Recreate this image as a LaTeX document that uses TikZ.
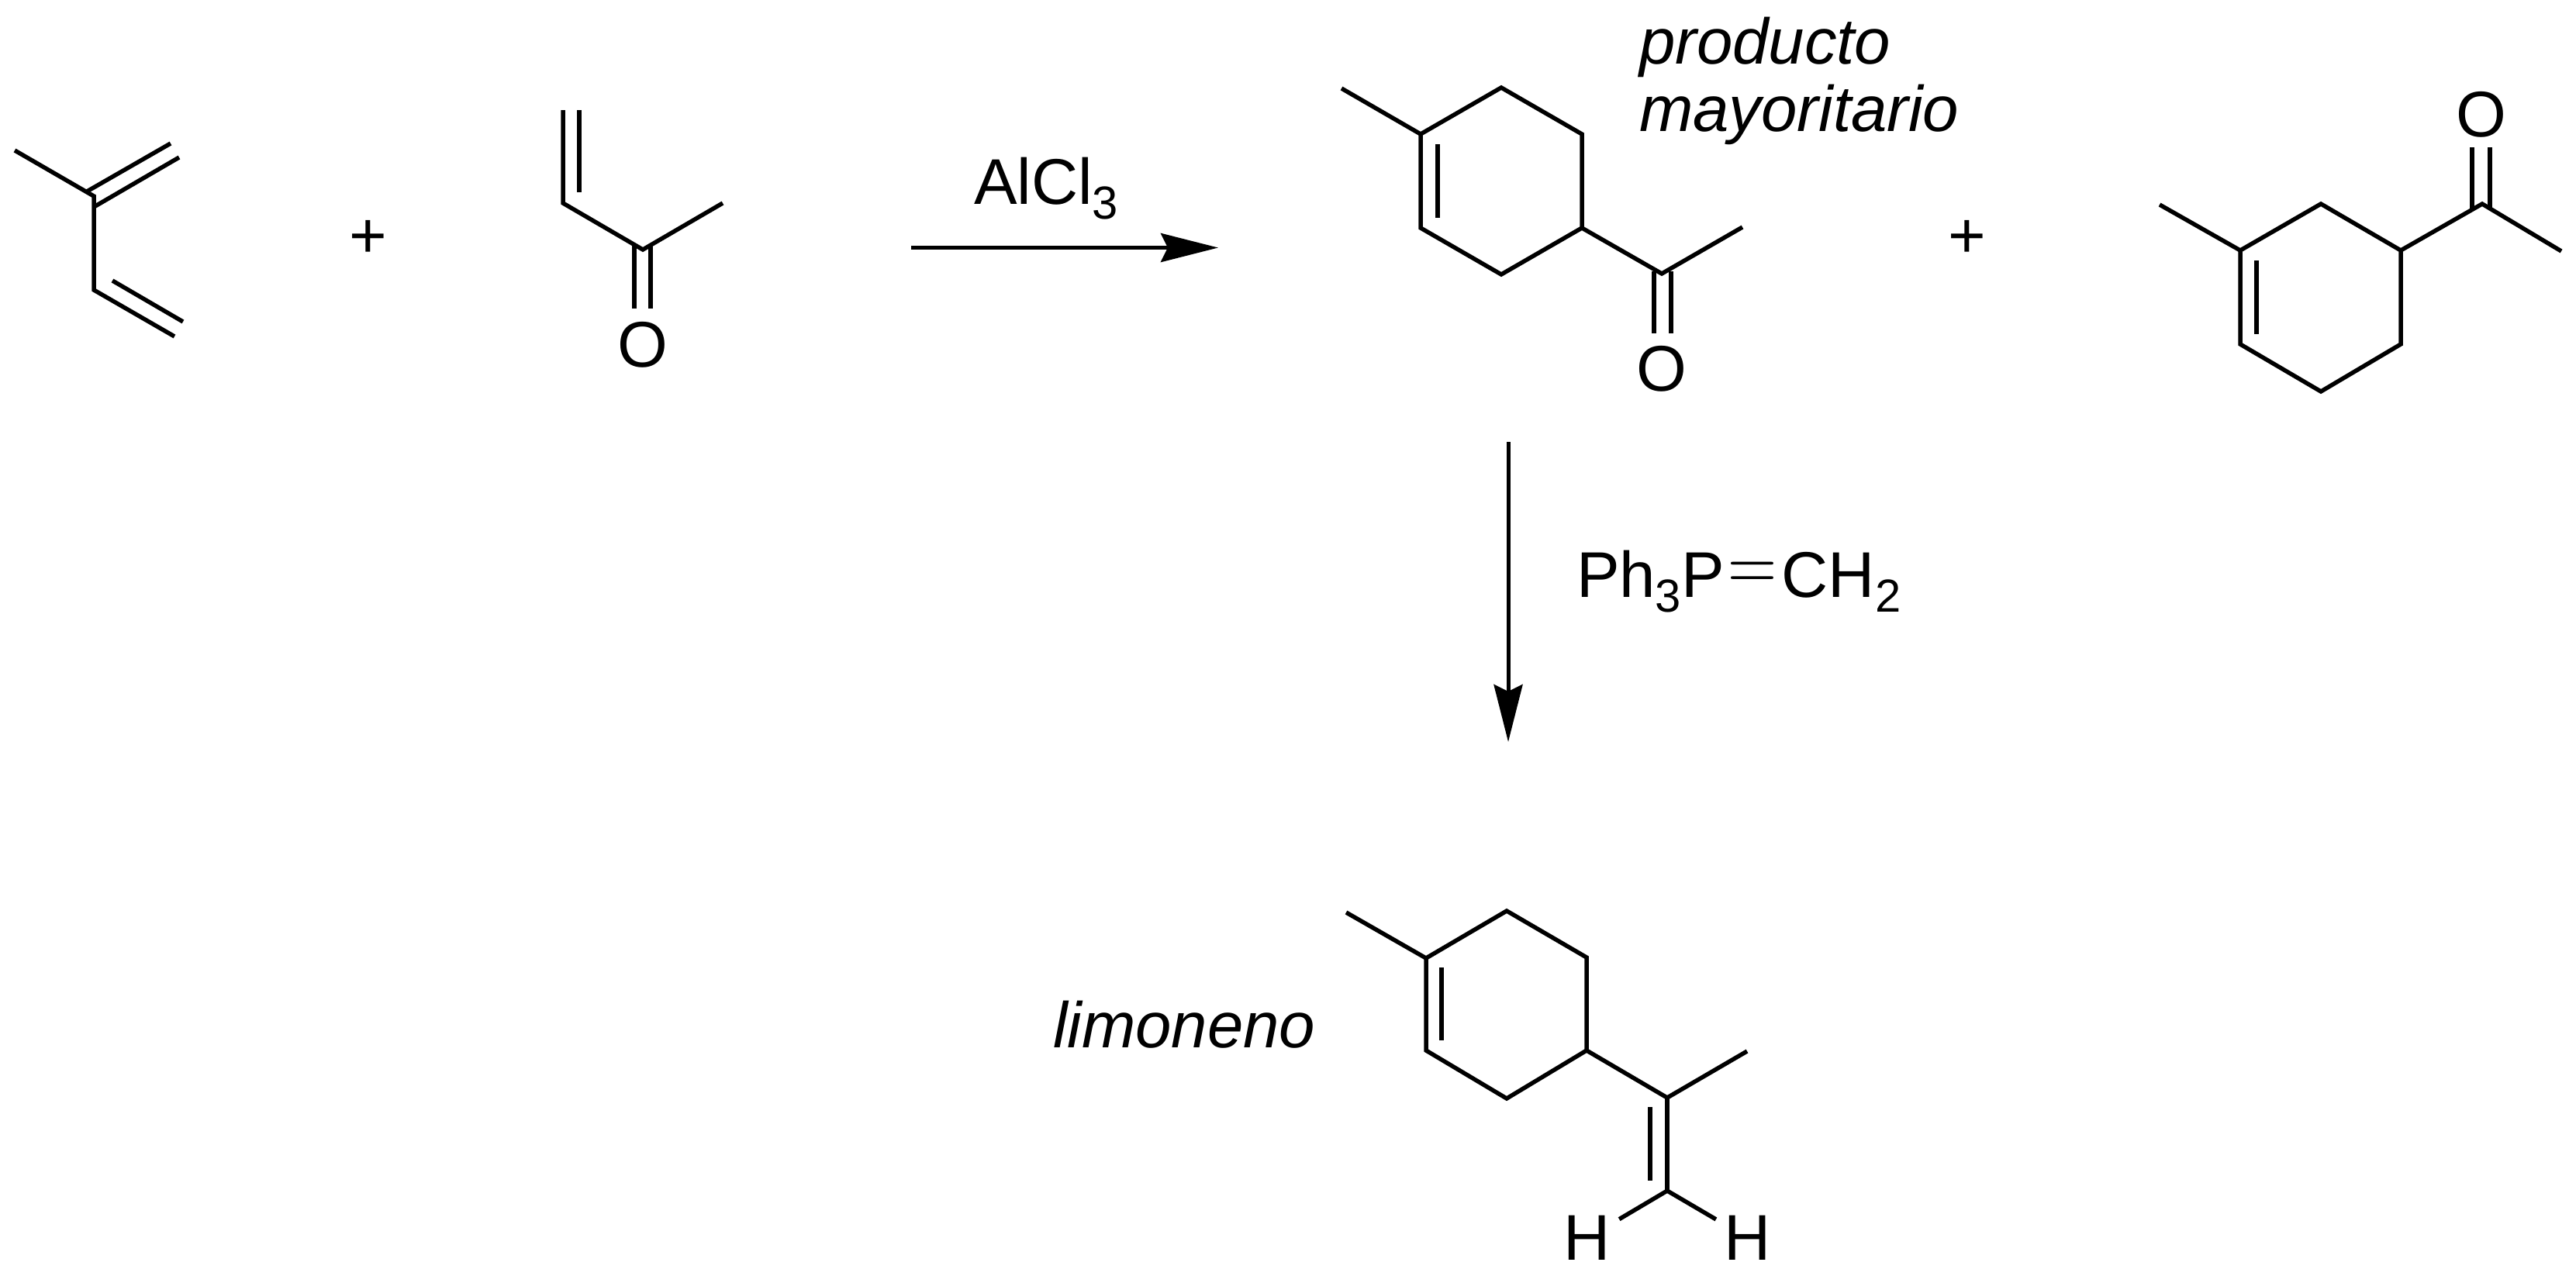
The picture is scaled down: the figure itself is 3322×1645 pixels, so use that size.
\documentclass[tikz,border=0pt]{standalone}
\usepackage{fontspec}
\setmainfont{Liberation Sans}
\usepackage{graphicx}
\usetikzlibrary{arrows.meta}
\newcommand{\chemsub}[1]{\raisebox{-0.19cm}{\fontsize{17}{17}\selectfont #1}}
\tikzset{bond/.style={line width=0.055cm, line join=miter},
         reaction/.style={line width=0.05cm, -{Stealth[length=0.74cm, width=0.37cm, inset=0.09cm]}},
         label/.style={inner sep=0pt, outer sep=0pt, font=\fontsize{23.7}{24.7}\selectfont},
         hatom/.style={inner sep=0.11cm, outer sep=0pt, font=\fontsize{23.7}{24.7}\selectfont}}

\begin{document}
\begin{tikzpicture}[x=0.01cm, y=-0.01cm]
  \useasboundingbox (0,0) rectangle (3322,1645);
  % isoprene
  \coordinate (isoMe)  at (19,194);
  \coordinate (isoC)   at (121,253);
  \coordinate (isoD)   at (121,374);
  \coordinate (isoE)   at (225,434);
  \coordinate (isoA1)  at (112,247);
  \coordinate (isoA2)  at (220,185);
  \coordinate (isoB1)  at (121,267);
  \coordinate (isoB2)  at (231,203);
  \coordinate (isoF1)  at (145,362);
  \coordinate (isoF2)  at (236,415);
  \draw[bond] (isoMe) -- (isoC) -- (isoD) -- (isoE);
  \draw[bond] (isoA1) -- (isoA2);
  \draw[bond] (isoB1) -- (isoB2);
  \draw[bond] (isoF1) -- (isoF2);
  \node[label, anchor=base] (plusA) at (474.5,332) {+};
  % methyl vinyl ketone
  \coordinate (mvkA)  at (726,142);
  \coordinate (mvkB)  at (726,262);
  \coordinate (mvkC)  at (829,322);
  \coordinate (mvkD)  at (932,262);
  \coordinate (mvkE1) at (747,142);
  \coordinate (mvkE2) at (747,248);
  \coordinate (mvkF1) at (818,317);
  \coordinate (mvkF2) at (818,398);
  \coordinate (mvkG1) at (839,317);
  \coordinate (mvkG2) at (839,398);
  \draw[bond] (mvkA) -- (mvkB) -- (mvkC) -- (mvkD);
  \draw[bond] (mvkE1) -- (mvkE2);
  \draw[bond] (mvkF1) -- (mvkF2);
  \draw[bond] (mvkG1) -- (mvkG2);
  \node[label, anchor=base] (mvkO) at (829,473) {O};
  % first arrow
  \coordinate (arrAs) at (1175,319.5);
  \coordinate (arrAe) at (1571,319.5);
  \draw[reaction] (arrAs) -- (arrAe);
  \node[label, anchor=base west] (alcl) at (1256,263) {AlCl\chemsub{3}};
  % major product
  \coordinate (majMe) at (1730,114);
  \coordinate (maj1)  at (1832,173);
  \coordinate (maj2)  at (1936,113);
  \coordinate (maj3)  at (2040,173);
  \coordinate (maj4)  at (2040,294);
  \coordinate (maj5)  at (1936,354);
  \coordinate (maj6)  at (1832,294);
  \coordinate (majI1) at (1854,186);
  \coordinate (majI2) at (1854,281);
  \coordinate (majC)  at (2143,353);
  \coordinate (majD)  at (2247,293);
  \coordinate (majF1) at (2133,350);
  \coordinate (majF2) at (2133,430);
  \coordinate (majG1) at (2155,350);
  \coordinate (majG2) at (2155,430);
  \draw[bond] (maj1) -- (maj2) -- (maj3) -- (maj4) -- (maj5) -- (maj6) -- cycle;
  \draw[bond] (majMe) -- (maj1);
  \draw[bond] (majI1) -- (majI2);
  \draw[bond] (maj4) -- (majC) -- (majD);
  \draw[bond] (majF1) -- (majF2);
  \draw[bond] (majG1) -- (majG2);
  \node[label, anchor=base] (majO) at (2143,504) {O};
  \node[label, align=left, anchor=base west, font=\fontsize{23.7}{24.7}\itshape] (majT) at (2114,169) {producto\\mayoritario};
  \node[label, anchor=base] (plusB) at (2537,332) {+};
  % minor product
  \coordinate (minMe) at (2785,264);
  \coordinate (min1)  at (2889,323);
  \coordinate (min2)  at (2993,263);
  \coordinate (min3)  at (3096,323);
  \coordinate (min4)  at (3096,444);
  \coordinate (min5)  at (2993,505);
  \coordinate (min6)  at (2889,444);
  \coordinate (minI1) at (2910,336);
  \coordinate (minI2) at (2910,431);
  \coordinate (minC)  at (3201,263);
  \coordinate (minD)  at (3303,324);
  \coordinate (minF1) at (3188,190);
  \coordinate (minF2) at (3188,270);
  \coordinate (minG1) at (3211,190);
  \coordinate (minG2) at (3211,270);
  \draw[bond] (min1) -- (min2) -- (min3) -- (min4) -- (min5) -- (min6) -- cycle;
  \draw[bond] (minMe) -- (min1);
  \draw[bond] (minI1) -- (minI2);
  \draw[bond] (min3) -- (minC) -- (minD);
  \draw[bond] (minF1) -- (minF2);
  \draw[bond] (minG1) -- (minG2);
  \node[label, anchor=base] (minO) at (3200,176) {O};
  % second arrow
  \coordinate (arrBs) at (1945,570);
  \coordinate (arrBe) at (1945,957);
  \draw[reaction] (arrBs) -- (arrBe);
  \node[label, anchor=base west] (wittig) at (2033,770) {Ph\chemsub{3}P\kern0.05cm\raisebox{0.08cm}{\scalebox{1}[1.2]{$=$}}\kern0.06cm CH\chemsub{2}};
  % limonene
  \coordinate (limMe) at (1736,1177);
  \coordinate (lim1)  at (1839,1236);
  \coordinate (lim2)  at (1943,1175);
  \coordinate (lim3)  at (2046,1235);
  \coordinate (lim4)  at (2046,1355);
  \coordinate (lim5)  at (1943,1417);
  \coordinate (lim6)  at (1839,1355);
  \coordinate (limI1) at (1859,1248);
  \coordinate (limI2) at (1859,1342);
  \coordinate (limC)  at (2150,1416);
  \coordinate (limD)  at (2253,1356);
  \coordinate (limE)  at (2150,1536);
  \coordinate (limF1) at (2128,1428);
  \coordinate (limF2) at (2128,1523);
  \draw[bond] (lim1) -- (lim2) -- (lim3) -- (lim4) -- (lim5) -- (lim6) -- cycle;
  \draw[bond] (limMe) -- (lim1);
  \draw[bond] (limI1) -- (limI2);
  \draw[bond] (lim4) -- (limC) -- (limD);
  \draw[bond] (limC) -- (limE);
  \draw[bond] (limF1) -- (limF2);
  \node[hatom] (limHa) at (2047,1597) {H};
  \node[hatom] (limHb) at (2254,1597) {H};
  \draw[bond] (limE) -- (limHa);
  \draw[bond] (limE) -- (limHb);
  \node[label, anchor=base west, font=\fontsize{23.7}{24.7}\itshape] (limT) at (1358,1351) {limoneno};
\end{tikzpicture}
\end{document}
